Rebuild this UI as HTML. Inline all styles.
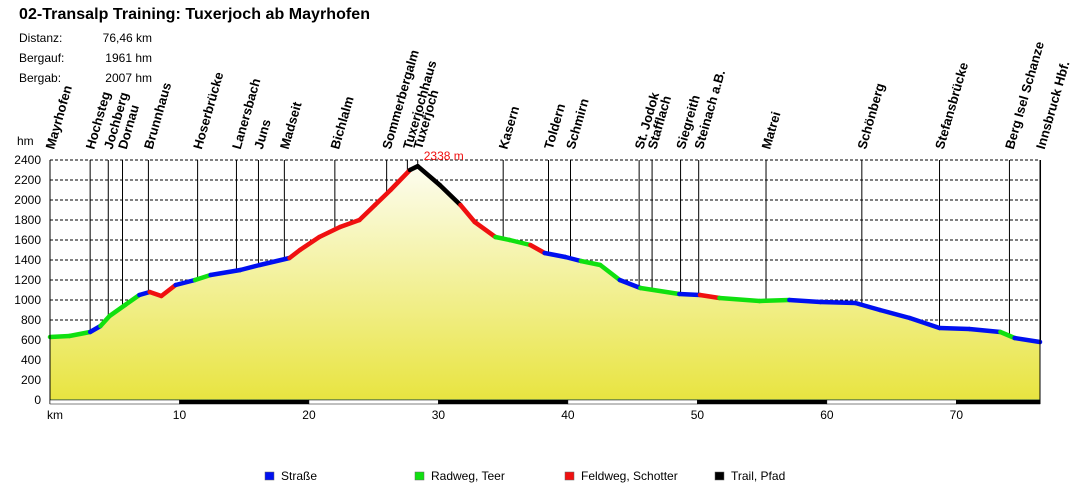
<!DOCTYPE html>
<html><head><meta charset="utf-8"><style>
body{margin:0;background:#fff;font-family:"Liberation Sans",sans-serif}
svg{display:block}
</style></head><body>
<svg id="c" width="1090" height="486" xmlns="http://www.w3.org/2000/svg">
<defs><linearGradient id="g" x1="0" y1="0" x2="0" y2="1"><stop offset="0" stop-color="#fdfdf0"/><stop offset="1" stop-color="#e8e440"/></linearGradient></defs>
<text x="19" y="19" font-size="16" font-weight="bold" textLength="351">02-Transalp Training: Tuxerjoch ab Mayrhofen</text>
<g font-size="12">
<text x="19" y="42">Distanz:</text><text x="152" y="42" text-anchor="end">76,46 km</text>
<text x="19" y="62">Bergauf:</text><text x="152" y="62" text-anchor="end">1961 hm</text>
<text x="19" y="82">Bergab:</text><text x="152" y="82" text-anchor="end">2007 hm</text>
</g>
<text x="17" y="145" font-size="12">hm</text>
<text x="47" y="419" font-size="12">km</text>
<g id="grid"></g><g id="area"></g><g id="marks"></g><g id="line"></g><g id="axes"></g><g id="legend"></g>
</svg>
<script>
const kms=[0,1.5,3.1,3.9,4.6,5.8,6.9,7.7,8.6,9.7,11.2,12.4,14.7,16.2,18.5,19.3,20.8,22.4,23.9,25.1,26.3,27.8,28.4,30.1,31.7,32.8,34.4,35.5,37.1,38.2,39.8,41,42.5,44,45.6,48.6,50.2,51.7,54.8,57.1,59.5,62.2,64.1,66.4,68.7,71,73.4,74.5,76.46];
const elev=[630,640,680,740,840,950,1050,1080,1040,1150,1200,1250,1300,1350,1420,1500,1630,1730,1800,1950,2100,2300,2338,2150,1950,1780,1630,1600,1550,1470,1430,1390,1350,1200,1120,1060,1050,1020,990,1000,980,970,900,820,720,710,680,620,580];
const surf=["g","g","b","g","g","g","b","r","r","b","g","b","b","b","r","r","r","r","r","r","r","k","k","k","r","r","g","g","r","b","b","g","g","b","g","b","r","g","g","b","b","b","b","b","b","b","g","b"];
const placeNames=["Mayrhofen","Hochsteg","Jochberg","Dornau","Brunnhaus","Hoserbrücke","Lanersbach","Juns","Madseit","Bichlalm","Sommerbergalm","Tuxerjochhaus","Tuxerjoch","Kasern","Toldern","Schmirn","St. Jodok","Stafflach","Siegreith","Steinach a.B.","Matrei","Schönberg","Stefansbrücke","Berg Isel Schanze","Innsbruck Hbf."];
const placeKm=[0,3.1,4.5,5.6,7.6,11.4,14.4,16.1,18.1,22.0,26.0,27.6,28.4,35.0,38.5,40.2,45.5,46.5,48.7,50.1,55.3,62.7,68.7,74.1,76.5];
const yTicks=[0,200,400,600,800,1000,1200,1400,1600,1800,2000,2200,2400];
const xTicks=[10,20,30,40,50,60,70];
const legendLabels=["Straße","Radweg, Teer","Feldweg, Schotter","Trail, Pfad"];
const colors={b:"#0010f0",g:"#10e010",r:"#f01010",k:"#000000"};
const legendKeys=["b","g","r","k"];
const X=k=>50+k*(990/76.46), Y=e=>400-e*0.1;
const NS="http://www.w3.org/2000/svg";
function mk(p,t,a){const e=document.createElementNS(NS,t);for(const k in a)e.setAttribute(k,a[k]);p.appendChild(e);return e;}
const grid=document.getElementById('grid'),area=document.getElementById('area'),marks=document.getElementById('marks'),line=document.getElementById('line'),axes=document.getElementById('axes'),leg=document.getElementById('legend');
const xEnd=X(76.46);
yTicks.forEach(v=>{
 const l=mk(grid,'line',{x1:50,x2:xEnd,y1:Y(v),y2:Y(v),stroke:'#000','stroke-dasharray':'3,2','stroke-width':1});
 
 
 const t=mk(axes,'text',{x:41,y:Y(v)+4,'font-size':12,'text-anchor':'end'});t.textContent=v;
 
 
});
let d='M'+X(0)+','+Y(0);kms.forEach((k,i)=>d+=' L'+X(k)+','+Y(elev[i]));d+=' L'+X(kms[kms.length-1])+','+Y(0)+'Z';
const ar=mk(area,'path',{d:d,fill:'url(#g)',stroke:'#2a8a8a','stroke-width':1});


function elevAt(k){for(let i=1;i<kms.length;i++)if(k<=kms[i]){const f=(k-kms[i-1])/(kms[i]-kms[i-1]);return elev[i-1]+f*(elev[i]-elev[i-1]);}return elev[elev.length-1];}
placeNames.forEach((n,i)=>{
 const x=X(placeKm[i]);
 const l=mk(marks,'line',{x1:x,x2:x,y1:Y(2400),y2:Y(elevAt(placeKm[i])),stroke:'#000','stroke-width':1});
 
 
 const t=mk(marks,'text',{x:x+4,y:150,'font-size':13,'font-weight':'bold',transform:`rotate(-74 ${x+4} 150)`});t.textContent=n;
 
 
});
for(let i=0;i<surf.length;i++){
 const s=mk(line,'line',{x1:X(kms[i]),y1:Y(elev[i]),x2:X(kms[i+1]),y2:Y(elev[i+1]),stroke:colors[surf[i]],'stroke-width':4.5,'stroke-linecap':'round'});
 
 
}
const mx=kms[elev.indexOf(Math.max(...elev))];
const pk=mk(line,'text',{x:X(mx)+6,y:Y(2338)-6,'font-size':12,fill:'#f01010'});pk.textContent=Math.max(...elev)+' m';


mk(axes,'line',{x1:50,x2:50,y1:Y(2400),y2:404,stroke:'#000'});
mk(axes,'line',{x1:xEnd,x2:xEnd,y1:Y(2400),y2:404,stroke:'#000'});
for(let k=0;k<76.46;k+=10){
 const r=mk(axes,'rect',{x:X(k),y:400,width:X(Math.min(k+10,76.46))-X(k),height:4,fill:(k/10)%2?'#000':'#fff',stroke:'#000','stroke-width':0.5});
 
 
}
xTicks.forEach(v=>{const t=mk(axes,'text',{x:X(v),y:419,'font-size':12,'text-anchor':'middle'});t.textContent=v;
 
 });
legendLabels.forEach((n,i)=>{
 const x=265+i*150;
 const r=mk(leg,'rect',{x:x,y:472,width:9,height:8,fill:colors[legendKeys[i]],stroke:'#666','stroke-width':0.5});
 
 
 const t=mk(leg,'text',{x:x+16,y:480,'font-size':12});t.textContent=n;
 
 
});
</script>
</body></html>
